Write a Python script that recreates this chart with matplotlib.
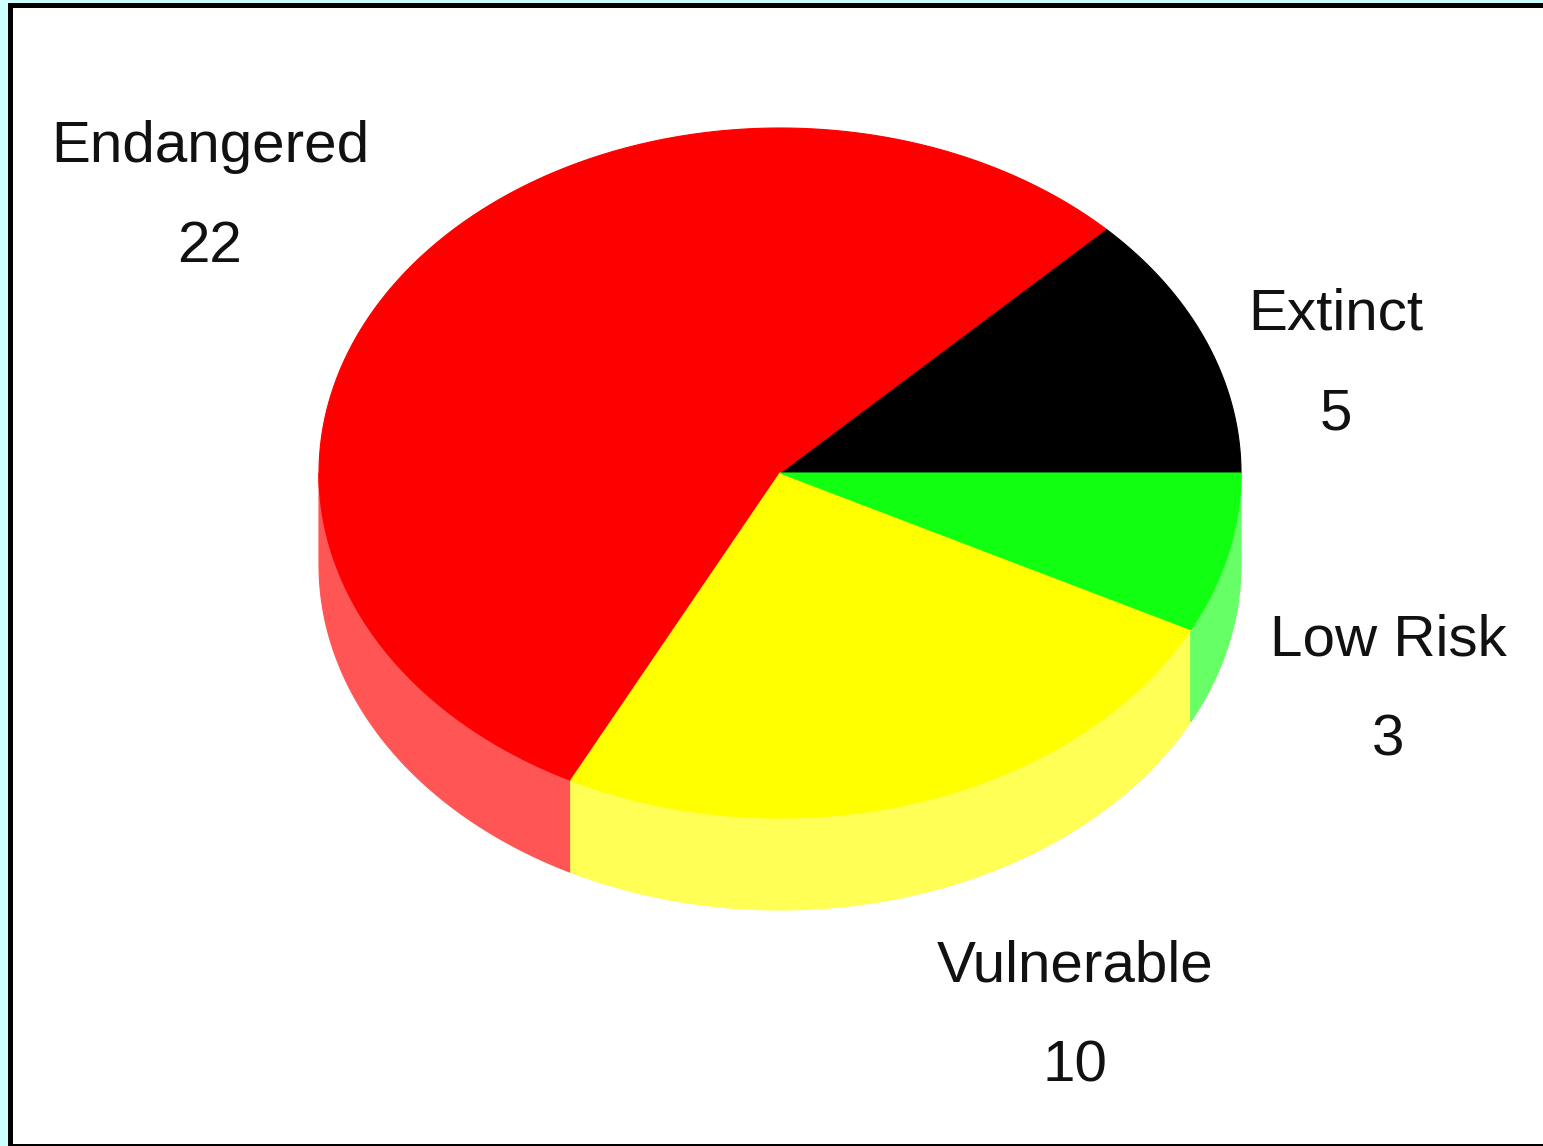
import numpy as np
import matplotlib.pyplot as plt
from matplotlib.patches import Polygon, Rectangle

# counter-clockwise from 3 o'clock
categories = ['Extinct', 'Endangered', 'Vulnerable', 'Low Risk']
counts = [5, 22, 10, 3]
top_colors = ['#000000', '#ff0000', '#ffff00', '#11ff11']
side_colors = ['#333333', '#ff5555', '#ffff55', '#66ff66']

# layout (pixel coordinates of the page)
W, H = 1543, 1146
cx, cy = 780, 473
rx, ry = 461, 345
depth = 92
label_pos = [(1336, 315), (210, 147), (1075, 967), (1388, 640)]

fig = plt.figure(figsize=(W / 100, H / 100), dpi=100)
fig.patch.set_facecolor('#ccffff')
ax = fig.add_axes([0, 0, 1, 1])
ax.set_xlim(0, W)
ax.set_ylim(H, 0)
ax.axis('off')

# white page with black frame
ax.add_patch(Rectangle((8, 3), W + 20, H, facecolor='white', edgecolor='none', zorder=0))
ax.add_patch(Rectangle((8, 3), 5, H, facecolor='black', edgecolor='none', zorder=1))
ax.add_patch(Rectangle((8, 3), W, 5, facecolor='black', edgecolor='none', zorder=1))
ax.add_patch(Rectangle((8, H - 2), W, 3, facecolor='black', edgecolor='none', zorder=1))


def pt(deg):
    t = np.deg2rad(deg)
    return cx + rx * np.cos(t), cy - ry * np.sin(t)


total = float(sum(counts))
start = 0.0
for name, n, tc, sc, (lx, ly) in zip(categories, counts, top_colors, side_colors, label_pos):
    span = 360.0 * n / total
    a0, a1 = start, start + span
    # front wall: only the part of the rim facing the viewer (180..360 deg)
    lo, hi = max(a0, 180.0), min(a1, 360.0)
    if hi > lo:
        th = np.linspace(lo, hi, 200)
        xs, ys = pt(th)
        wall = np.column_stack([np.r_[xs, xs[::-1]], np.r_[ys, ys[::-1] + depth]])
        ax.add_patch(Polygon(wall, closed=True, facecolor=sc, edgecolor=sc, lw=0.8, zorder=2))
    th = np.linspace(a0, a1, 300)
    xs, ys = pt(th)
    top = np.column_stack([np.r_[cx, xs], np.r_[cy, ys]])
    ax.add_patch(Polygon(top, closed=True, facecolor=tc, edgecolor=tc, lw=0.8, zorder=3))
    ax.text(lx, ly, name, ha='center', va='center', fontsize=42,
            family='Liberation Sans', color='#111111')
    ax.text(lx, ly + 100, str(n), ha='center', va='center', fontsize=42,
            family='Liberation Sans', color='#111111')
    start = a1

fig.savefig('out.png', dpi=100, facecolor=fig.get_facecolor())
